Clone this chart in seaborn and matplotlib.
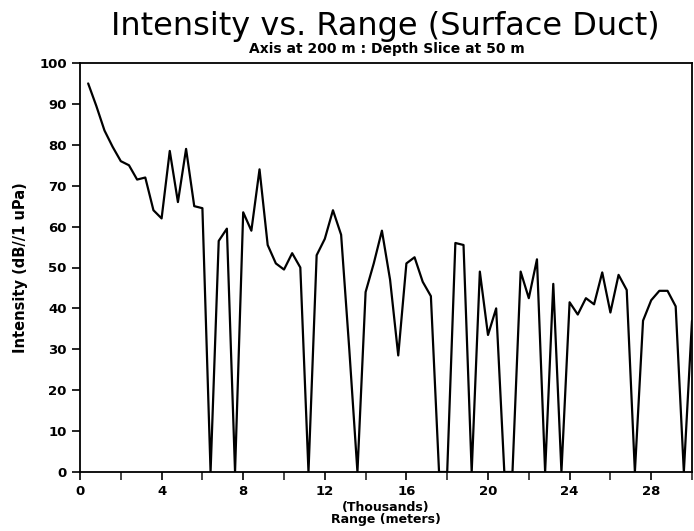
import numpy as np
import matplotlib
matplotlib.use("Agg")
import matplotlib.pyplot as plt
import seaborn as sns
import pandas as pd

# range in thousands of meters (one sample every 400 m)
range_km = [0.4, 0.8, 1.2, 1.6, 2.0, 2.4, 2.8, 3.2, 3.6, 4.0,
            4.4, 4.8, 5.2, 5.6, 6.0, 6.4, 6.8, 7.2, 7.6, 8.0,
            8.4, 8.8, 9.2, 9.6, 10.0, 10.4, 10.8, 11.2, 11.6, 12.0,
            12.4, 12.8, 13.2, 13.6, 14.0, 14.4, 14.8, 15.2, 15.6, 16.0,
            16.4, 16.8, 17.2, 17.6, 18.0, 18.4, 18.8, 19.2, 19.6, 20.0,
            20.4, 20.8, 21.2, 21.6, 22.0, 22.4, 22.8, 23.2, 23.6, 24.0,
            24.4, 24.8, 25.2, 25.6, 26.0, 26.4, 26.8, 27.2, 27.6, 28.0,
            28.4, 28.8, 29.2, 29.6, 30.0]

# intensity in dB//1 uPa
intensity = [95, 89.5, 83.5, 79.5, 76, 75, 71.5, 72, 64, 62,
             78.5, 66, 79, 65, 64.5, 0, 56.5, 59.5, 0, 63.5,
             59, 74, 55.5, 51, 49.5, 53.5, 50, 0, 53, 57,
             64, 58, 30, 0, 44, 51, 59, 47, 28.5, 51,
             52.5, 46.5, 43, 0, 0, 56, 55.5, 0, 49, 33.5,
             40, 0, 0, 49, 42.5, 52, 0, 46, 0, 41.5,
             38.5, 42.5, 41, 48.8, 39, 48.2, 44.5, 0, 37, 42,
             44.3, 44.3, 40.5, 0, 37]

x_ticks = [0, 4, 8, 12, 16, 20, 24, 28]
y_ticks = [0, 10, 20, 30, 40, 50, 60, 70, 80, 90, 100]

df = pd.DataFrame({"range": range_km, "intensity": intensity})

sns.set_style("ticks")
plt.rcParams["font.family"] = ["DejaVu Sans"]
plt.rcParams["text.color"] = "black"
plt.rcParams["axes.labelcolor"] = "black"

fig = plt.figure(figsize=(6.94, 5.31), dpi=100)
ax = fig.add_axes([80 / 694, 59 / 531, 612 / 694, 409 / 531])

sns.lineplot(data=df, x="range", y="intensity", color="black", linewidth=1.6, ax=ax)

ax.set_xlim(0, 30)
ax.set_ylim(0, 100)
ax.set_xticks(x_ticks)
ax.set_xticks([2, 6, 10, 14, 18, 22, 26, 30], minor=True)
ax.set_yticks(y_ticks)
ax.tick_params(axis="both", which="major", direction="out", length=6, width=1.2,
               labelsize=9.5, colors="black")
ax.tick_params(axis="x", which="minor", direction="out", length=6, width=1.2)
for lab in ax.get_xticklabels() + ax.get_yticklabels():
    lab.set_fontweight("bold")
for s in ax.spines.values():
    s.set_color("black")
    s.set_linewidth(1.3)

ax.set_xlabel("(Thousands)\nRange (meters)", fontsize=9, fontweight="bold",
              linespacing=0.95, labelpad=2)
ax.set_ylabel("Intensity (dB//1 uPa)", fontsize=10.5, fontweight="bold", labelpad=8)

fig.text(385 / 694, 1 - 35 / 531, "Intensity vs. Range (Surface Duct)",
         ha="center", va="baseline", fontsize=23)
fig.text(387 / 694, 1 - 53 / 531, "Axis at 200 m : Depth Slice at 50 m",
         ha="center", va="baseline", fontsize=10, fontweight="bold")

fig.savefig("out.png", dpi=100)
